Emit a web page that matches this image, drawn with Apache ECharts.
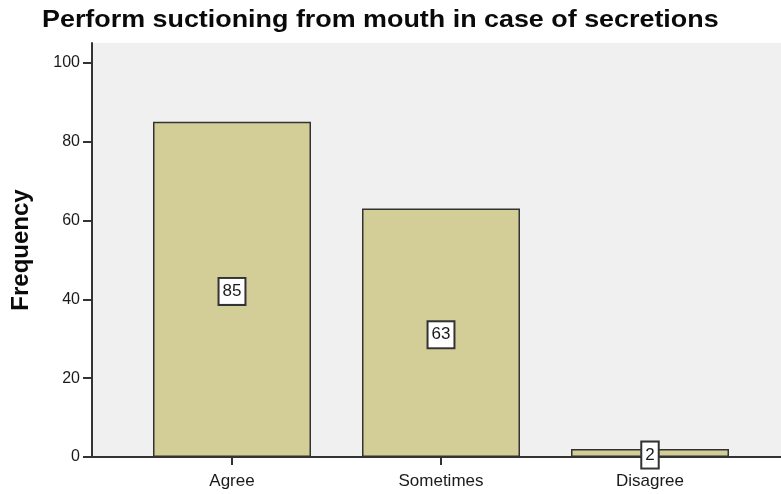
<!DOCTYPE html>
<html>
<head>
<meta charset="utf-8">
<script src="https://cdn.jsdelivr.net/npm/echarts@6/dist/echarts.min.js"></script>
<style>
  html, body { margin: 0; padding: 0; background: #fff; }
  #chart { width: 781px; height: 494px; }
</style>
</head>
<body>
<div id="chart"></div>
<script>
// Response categories and their counts
const categories = ['Agree', 'Sometimes', 'Disagree'];
const frequencies = [85, 63, 2];
const yTicks = [0, 20, 40, 60, 80, 100];

const chartTitle = 'Perform suctioning from mouth in case of secretions';
const yName = 'Frequency';

const FONT = '"Liberation Sans", Arial, sans-serif';
const AXIS_COLOR = '#333';

const chart = echarts.init(document.getElementById('chart'));

chart.setOption({
  animation: false,
  backgroundColor: '#ffffff',
  // title drawn as a graphic so it can be widened slightly
  graphic: [{
    type: 'text',
    x: 42,
    y: 8,
    scaleX: 1.12,
    style: {
      text: chartTitle,
      font: 'bold 24px ' + FONT,
      fill: '#0a0a0a',
      textAlign: 'left',
      textVerticalAlign: 'top'
    }
  }],
  grid: [
    // frame: shaded plot area with the value axis
    { left: 92, top: 43, right: -10, bottom: 37, show: true, backgroundColor: '#f0f0f0',
      borderWidth: 0 },
    // inner band holding the category axis and the bars
    { left: 127.5, top: 43, right: 26.5, bottom: 37 }
  ],
  xAxis: [
    { gridIndex: 0, type: 'value', min: 0, max: 1, position: 'top',
      axisLine: { show: true, lineStyle: { color: AXIS_COLOR, width: 2 } },
      axisTick: { show: false }, axisLabel: { show: false }, splitLine: { show: false } },
    { gridIndex: 0, type: 'value', min: 0, max: 1, position: 'bottom',
      axisLine: { show: true, onZero: false, lineStyle: { color: AXIS_COLOR, width: 2 } },
      axisTick: { show: false }, axisLabel: { show: false }, splitLine: { show: false } },
    { gridIndex: 1, type: 'category', data: categories, boundaryGap: true,
      axisLine: { show: false },
      axisTick: { show: true, alignWithLabel: true, length: 8, lineStyle: { color: AXIS_COLOR, width: 2 } },
      axisLabel: { fontFamily: FONT, fontSize: 17, color: '#1a1a1a', margin: 16 } }
  ],
  yAxis: [
    { gridIndex: 0, type: 'value', min: 0, max: 105, interval: 20,
      name: yName, nameLocation: 'middle', nameRotate: 90, nameGap: 59,
      nameTextStyle: { fontFamily: FONT, fontSize: 24, fontWeight: 'bold', color: '#0a0a0a' },
      axisLine: { show: true, lineStyle: { color: AXIS_COLOR, width: 2 } },
      axisTick: { show: true, length: 9, customValues: yTicks, lineStyle: { color: AXIS_COLOR, width: 2 } },
      axisLabel: { fontFamily: FONT, fontSize: 16, color: '#1a1a1a', margin: 12, customValues: yTicks },
      splitLine: { show: false } },
    { gridIndex: 1, type: 'value', min: 0, max: 105, show: false }
  ],
  series: [{
    type: 'bar',
    xAxisIndex: 2,
    yAxisIndex: 1,
    data: frequencies,
    barWidth: '75.6%',
    itemStyle: { color: '#d3ce98', borderColor: '#333', borderWidth: 1.5 },
    label: {
      show: true,
      position: 'inside',
      offset: [0, 2],
      fontFamily: FONT,
      fontSize: 17,
      color: '#1a1a1a',
      backgroundColor: '#ffffff',
      borderColor: '#333',
      borderWidth: 2,
      padding: [5, 3, 3, 3]
    }
  }]
});
</script>
</body>
</html>
